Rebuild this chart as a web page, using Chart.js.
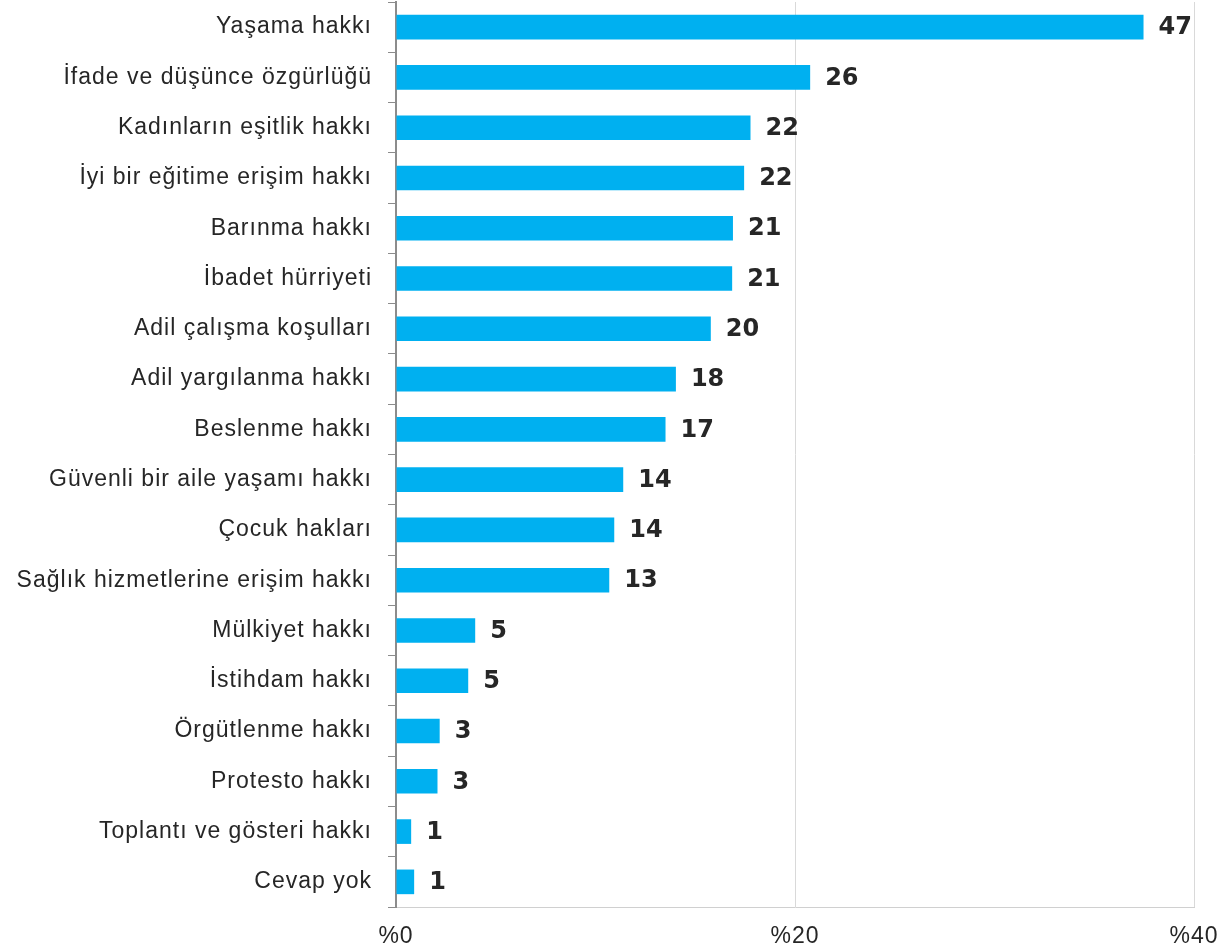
<!DOCTYPE html>
<html>
<head>
<meta charset="utf-8">
<script src="https://cdn.jsdelivr.net/npm/chart.js@4.4.0/dist/chart.umd.min.js"></script>
<style>
  html, body { margin: 0; padding: 0; background: #fff; }
  #wrap { width: 1220px; height: 952px; }
</style>
</head>
<body>
<div id="wrap"><canvas id="rights"></canvas></div>
<script>
const categories = [
  'Yaşama hakkı', 'İfade ve düşünce özgürlüğü', 'Kadınların eşitlik hakkı',
  'İyi bir eğitime erişim hakkı', 'Barınma hakkı', 'İbadet hürriyeti',
  'Adil çalışma koşulları', 'Adil yargılanma hakkı', 'Beslenme hakkı',
  'Güvenli bir aile yaşamı hakkı', 'Çocuk hakları', 'Sağlık hizmetlerine erişim hakkı',
  'Mülkiyet hakkı', 'İstihdam hakkı', 'Örgütlenme hakkı', 'Protesto hakkı',
  'Toplantı ve gösteri hakkı', 'Cevap yok'
];

// bar lengths as read against the %0-%40 axis
const barValues = [37.47, 20.76, 17.77, 17.45, 16.89, 16.85, 15.78, 14.03, 13.51,
                   11.39, 10.94, 10.69, 3.97, 3.62, 2.19, 2.08, 0.76, 0.91];

// numbers printed next to the bars
const printedValues = ['47', '26', '22', '22', '21', '21', '20', '18', '17',
                       '14', '14', '13', '5', '5', '3', '3', '1', '1'];

const xTickLabels = ['%0', '%20', '%40'];

const textColor = '#262626';

// wider spacing of the category labels, like the original
const spacingPlugin = {
  id: 'spacing',
  beforeLayout(chart) { chart.ctx.letterSpacing = '1px'; },
  beforeDraw(chart) { chart.ctx.letterSpacing = '1px'; }
};

const valueLabels = {
  id: 'valueLabels',
  afterDatasetsDraw(chart) {
    const ctx = chart.ctx;
    const bars = chart.getDatasetMeta(0).data;
    ctx.save();
    ctx.letterSpacing = '0px';
    ctx.font = 'bold 24px "DejaVu Sans"';
    ctx.fillStyle = textColor;
    ctx.textAlign = 'left';
    ctx.textBaseline = 'middle';
    bars.forEach((bar, i) => {
      ctx.fillText(printedValues[i], bar.x + 15, bar.y + 1);
    });
    ctx.restore();
  }
};

new Chart(document.getElementById('rights'), {
  type: 'bar',
  data: {
    labels: categories,
    datasets: [{
      data: barValues,
      backgroundColor: '#00b0f0',
      borderWidth: 0,
      categoryPercentage: 1,
      barPercentage: 0.49
    }]
  },
  options: {
    indexAxis: 'y',
    responsive: true,
    maintainAspectRatio: false,
    animation: false,
    layout: { padding: { top: 2, right: 26, left: 0, bottom: 0 } },
    plugins: {
      legend: { display: false },
      tooltip: { enabled: false }
    },
    scales: {
      x: {
        min: 0,
        max: 40,
        ticks: {
          stepSize: 20,
          padding: 16,
          color: textColor,
          font: { family: 'Liberation Sans', size: 23 },
          callback: (v, i) => xTickLabels[i]
        },
        grid: { color: '#d9d9d9', lineWidth: 1, drawTicks: false },
        border: { display: true, color: '#d0d0d0' },
        afterFit(scale) {
          scale.height = 45;
          scale.paddingLeft = 0;
          scale.paddingRight = 0;
        }
      },
      y: {
        ticks: {
          autoSkip: false,
          padding: 16,
          color: textColor,
          font: { family: 'Liberation Sans', size: 23 }
        },
        grid: {
          offset: true,
          drawOnChartArea: false,
          drawTicks: true,
          tickLength: 8,
          color: '#8c8c8c',
          lineWidth: 1
        },
        border: { display: true, color: '#8c8c8c', width: 2 },
        afterFit(scale) {
          scale.width = 396;
          scale.paddingTop = 0;
          scale.paddingBottom = 0;
        }
      }
    }
  },
  plugins: [spacingPlugin, valueLabels]
});
</script>
</body>
</html>
